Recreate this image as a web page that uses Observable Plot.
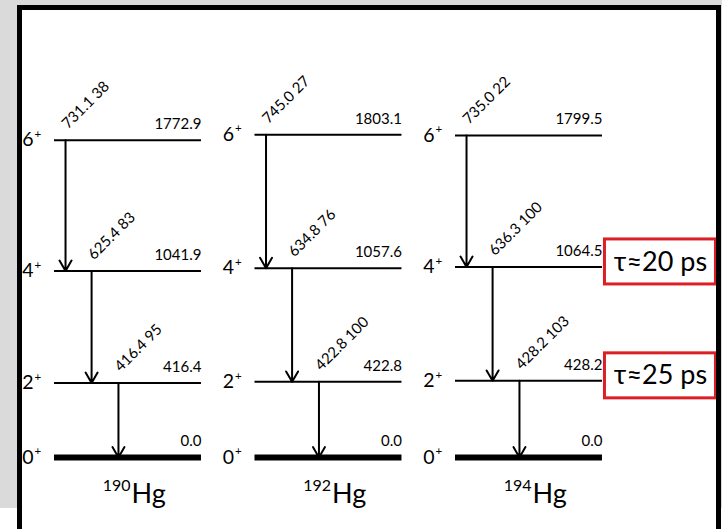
<!DOCTYPE html>
<html>
<head>
<meta charset="utf-8">
<script src="https://cdn.jsdelivr.net/npm/d3@7"></script>
<script src="https://cdn.jsdelivr.net/npm/@observablehq/plot@0.6"></script>
<style>
  body { margin: 0; background: #fff; }
  #stage { position: relative; width: 722px; height: 529px; overflow: hidden; font-family: Lato, sans-serif; }
  #backdrop { position: absolute; left: 0; top: 0; width: 722px; height: 508px; background: #dadada; }
  #sheet { position: absolute; left: 17px; top: 5px; width: 704px; height: 530px; background: #fff; }
  #chart { position: absolute; left: 0; top: 0; }
  #border { position: absolute; left: 17px; top: 5px; width: 704px; height: 530px; box-sizing: border-box;
            border: 5px solid #000; border-bottom: none; pointer-events: none; }
</style>
</head>
<body>
<div id="stage">
  <div id="backdrop"></div>
  <div id="sheet"></div>
  <div id="chart"></div>
  <div id="border"></div>
</div>
<script>
// Yrast band of the even mercury isotopes: level energies (keV),
// gamma-ray energies (keV) and relative intensities.
const massNumbers = ["190", "192", "194"];
const spins = [0, 2, 4, 6];
const hg190Levels = [0.0, 416.4, 1041.9, 1772.9];
const hg192Levels = [0.0, 422.8, 1057.6, 1803.1];
const hg194Levels = [0.0, 428.2, 1064.5, 1799.5];
// transitions 2+->0+, 4+->2+, 6+->4+
const hg190Gammas = [416.4, 625.4, 731.1];
const hg192Gammas = [422.8, 634.8, 745.0];
const hg194Gammas = [428.2, 636.3, 735.0];
const hg190Intensities = [95, 83, 38];
const hg192Intensities = [100, 76, 27];
const hg194Intensities = [103, 100, 22];
// measured lifetimes in 194Hg
const lifetimeSpins = [4, 2];
const lifetimeLabels = ["τ≈20 ps", "τ≈25 ps"];

const levelSets = [hg190Levels, hg192Levels, hg194Levels];
const gammaSets = [hg190Gammas, hg192Gammas, hg194Gammas];
const intensitySets = [hg190Intensities, hg192Intensities, hg194Intensities];

const levels = levelSets.flatMap((set, col) =>
  set.map((energy, j) => ({col, spin: spins[j], energy})));

const gammas = gammaSets.flatMap((set, col) =>
  set.map((eg, k) => ({
    col,
    slot: 2 - k,                      // 6->4 leftmost, 2->0 rightmost
    from: levelSets[col][k + 1],
    to: levelSets[col][k],
    egamma: eg,
    intensity: intensitySets[col][k]
  })));

const lifetimes = lifetimeSpins.map((s, i) => ({
  col: 2,
  energy: hg194Levels[spins.indexOf(s)],
  label: lifetimeLabels[i]
}));

const nuclei = massNumbers.map((m, col) => ({col, mass: m}));

// layout in column units: one unit per isotope column
const levelWidth = 0.733;
const slotOffsets = [0.055, 0.185, 0.319];
const arrowX = d => d.col + slotOffsets[d.slot];

const plot = Plot.plot({
  width: 722,
  height: 529,
  margin: 0,
  x: {domain: [0, 3], range: [54, 655.5], axis: null},
  y: {domain: [0, 1800], range: [457, 134.8], axis: null},
  style: {background: "transparent", fontFamily: "Lato, sans-serif", color: "#000"},
  marks: [
    Plot.ruleY(levels.filter(d => d.spin > 0), {
      y: "energy", x1: d => d.col, x2: d => d.col + levelWidth,
      stroke: "#000", strokeWidth: 2
    }),
    Plot.ruleY(levels.filter(d => d.spin === 0), {
      y: "energy", x1: d => d.col, x2: d => d.col + levelWidth,
      stroke: "#000", strokeWidth: 6
    }),
    Plot.arrow(gammas, {
      x1: arrowX, x2: arrowX, y1: "from", y2: "to",
      stroke: "#000", strokeWidth: 2, headLength: 9
    }),
    Plot.text(levels, {
      x: d => d.col + levelWidth, y: "energy", text: d => d.energy.toFixed(1),
      textAnchor: "end", dy: -16, fontSize: 15
    }),
    Plot.text(levels, {
      x: "col", y: "energy", text: d => String(d.spin),
      textAnchor: "end", dx: -21, fontSize: 19.5
    }),
    Plot.text(levels, {
      x: "col", y: "energy", text: () => "+",
      textAnchor: "start", dx: -20, dy: -6, fontSize: 11.5
    }),
    Plot.text(gammas, {
      x: arrowX, y: "from", text: d => `${d.egamma.toFixed(1)} ${d.intensity}`,
      rotate: -45, textAnchor: "start", dx: -1, dy: -14, fontSize: 15
    }),
    Plot.text(nuclei, {
      x: d => d.col + 0.384, y: () => 0, text: "mass",
      textAnchor: "end", dx: -1, dy: 28, fontSize: 16
    }),
    Plot.text(nuclei, {
      x: d => d.col + 0.384, y: () => 0, text: () => "Hg",
      textAnchor: "start", dy: 37, fontSize: 27
    }),
    Plot.text(lifetimes, {
      x: d => d.col + levelWidth, y: "energy", text: "label",
      textAnchor: "middle", dx: 58, dy: -5, fontSize: 27, ariaLabel: "lifetime"
    })
  ]
});

document.getElementById("chart").appendChild(plot);

// red frames around the lifetime labels
const sx = plot.scale("x"), sy = plot.scale("y");
const svgNS = "http://www.w3.org/2000/svg";
for (const d of lifetimes) {
  const cx = sx.apply(d.col + levelWidth) + 58;
  const cy = sy.apply(d.energy) - 5;
  const r = document.createElementNS(svgNS, "rect");
  r.setAttribute("x", cx - 55.5);
  r.setAttribute("y", cy - 22.5);
  r.setAttribute("width", 111);
  r.setAttribute("height", 45);
  r.setAttribute("fill", "none");
  r.setAttribute("stroke", "#dc1f26");
  r.setAttribute("stroke-width", 3);
  plot.appendChild(r);
}
</script>
</body>
</html>
